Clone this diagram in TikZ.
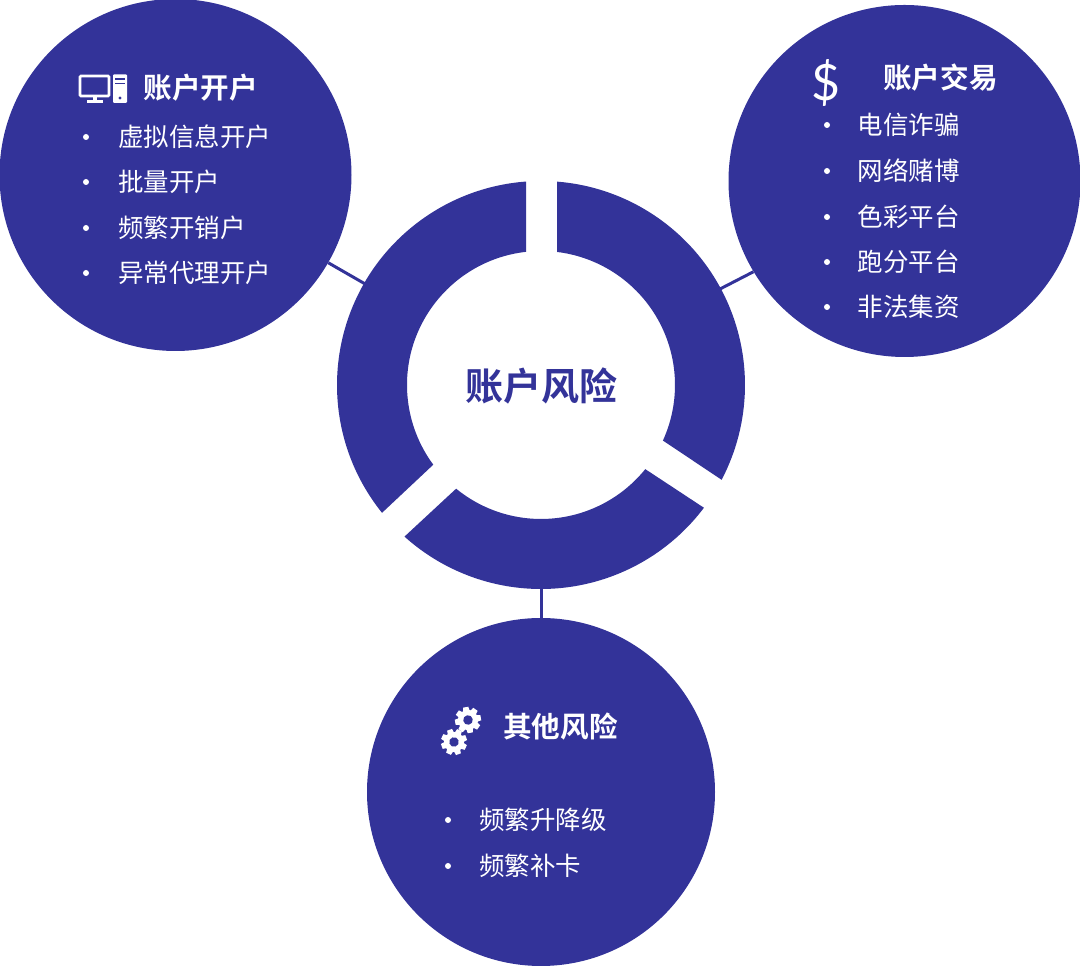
\documentclass[tikz,border=0pt]{standalone}
\usepackage{fontspec}
\setmainfont{Noto Sans CJK SC}
\newfontfamily\headfont{Noto Sans CJK SC}[BoldFont={Noto Sans CJK SC Bold}]
\newfontfamily\dollarfont{Lato}
\definecolor{ind}{HTML}{333399}
\tikzset{
  bigcircle/.style={circle,fill=ind,draw=none,inner sep=0pt,minimum size=#1},
  heading/.style={anchor=west,inner sep=0pt,text=white,font=\headfont\bfseries\fontsize{28.6}{30}\selectfont},
  item/.style={anchor=west,inner sep=0pt,text=white,font=\fontsize{25.5}{30}\selectfont},
  dot/.style={circle,fill=white,inner sep=0pt,minimum size=6pt},
  link/.style={draw=ind,line width=3pt},
  seg/.style={fill=ind,draw=none},
  icon/.style={draw=white,line width=2.8pt},
}
\newcommand{\gearicon}[2]{%
  \begin{scope}[shift={#1},rotate=#2]
    \fill[white] (0,0) circle (10pt);
    \foreach \a in {0,45,...,315}{
      \fill[white,rotate=\a] (-3.4pt,8pt) -- (-2.6pt,13pt) -- (2.6pt,13pt) -- (3.4pt,8pt) -- cycle;
    }
    \fill[ind] (0,0) circle (4.8pt);
  \end{scope}}
\begin{document}
\begin{tikzpicture}[x=1pt,y=1pt]
\useasboundingbox (0,0) rectangle (1080,966);
% nodes
\node[bigcircle=352pt] (acct) at (175.5,791) {};
\node[bigcircle=352pt] (trade) at (904.5,785) {};
\node[bigcircle=348pt] (other) at (541,174) {};
\node[circle,inner sep=0pt,minimum size=400pt] (ring) at (541,581) {};
\coordinate (ringR) at (720,677);
% connectors
\draw[link] (acct) -- (ring);
\draw[link] (trade.211.7) -- (ringR);
\draw[link] (other) -- (ring);
% ring
\begin{scope}[shift={(ring.center)}]
  \fill[seg] (85.5:204) arc[start angle=85.5,end angle=-27.7,radius=204] -- (-24.5:134) arc[start angle=-24.5,end angle=83.1,radius=134] -- cycle;
  \fill[seg] (-37:204) arc[start angle=-37,end angle=-132,radius=204] -- (-129.3:134) arc[start angle=-129.3,end angle=-38.9,radius=134] -- cycle;
  \fill[seg] (218.8:204) arc[start angle=218.8,end angle=94.2,radius=204] -- (96.4:134) arc[start angle=96.4,end angle=216.5,radius=134] -- cycle;
\end{scope}
\node[anchor=center,inner sep=0pt,text=ind,font=\headfont\bfseries\fontsize{38}{40}\selectfont] (title) at (541,580) {账户风险};
% account opening
\node[heading] (h1) at (143.5,878) {账户开户};
\foreach \n/\y/\t in {a/829/虚拟信息开户,b/784/批量开户,c/738/频繁开销户,d/693/异常代理开户}{
  \node[dot] (d1\n) at (86,\y) {};
  \node[item] (t1\n) at (118,\y) {\t};
}
% account trading
\node[heading] (h2) at (883,888) {账户交易};
\foreach \n/\y/\t in {a/841/电信诈骗,b/795/网络赌博,c/749/色彩平台,d/704/跑分平台,e/659/非法集资}{
  \node[dot] (d2\n) at (827,\y) {};
  \node[item] (t2\n) at (857.5,\y) {\t};
}
% other
\node[heading] (h3) at (503,239) {其他风险};
\foreach \n/\y/\t in {a/146/频繁升降级,b/100/频繁补卡}{
  \node[dot] (d3\n) at (448,\y) {};
  \node[item] (t3\n) at (479,\y) {\t};
}
% computer icon
\draw[icon,rounded corners=1pt] (80,870) rectangle (109,890);
\fill[white] (92.5,870) rectangle (96.5,865);
\fill[white] (87,863) rectangle (103,866);
\fill[white,rounded corners=1pt] (113,863) rectangle (127,891.5);
\fill[ind] (115,885.5) rectangle (125,887.5);
\fill[ind] (115,881.5) rectangle (125,883);
\fill[ind] (120,868) circle (1.6pt);
% dollar
\node[inner sep=0pt,text=white,font=\dollarfont\fontsize{50}{52}\selectfont] (usd) at (826,883) {\$};
% gears
\gearicon{(468,246)}{10}
\gearicon{(454,224)}{20}
\end{tikzpicture}
\end{document}
